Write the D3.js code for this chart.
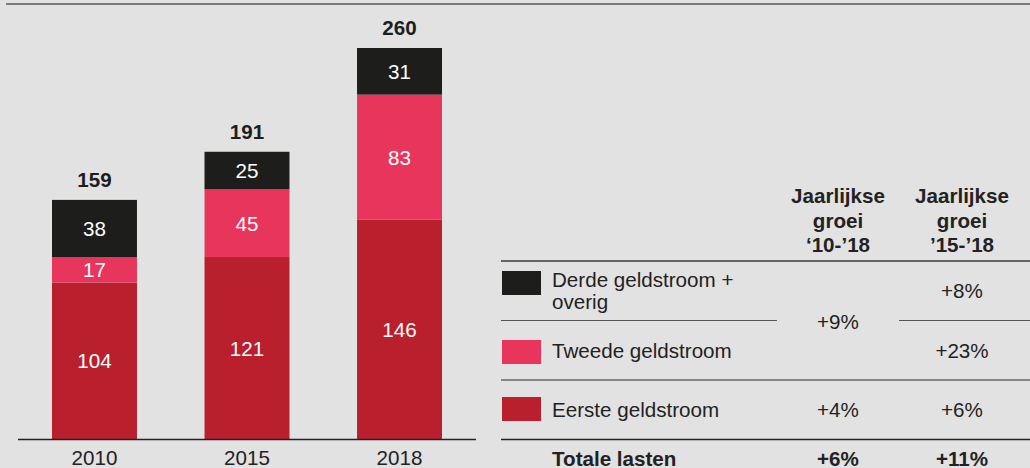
<!DOCTYPE html>
<html><head><meta charset="utf-8">
<script src="https://cdn.jsdelivr.net/npm/d3@7"></script>
<style>
html,body{margin:0;padding:0;background:#e2e2e2;}
svg{display:block;font-family:"Liberation Sans",Arial,sans-serif;}
</style></head>
<body><svg id="c" width="1030" height="468"></svg>
<script>
const years = ["2010","2015","2018"];
const seriesNames = ["Eerste geldstroom","Tweede geldstroom","Derde geldstroom + overig"];
const eerste = [104,121,146];
const tweede = [17,45,83];
const derde = [38,25,31];
const totals = [159,191,260];
const colors = ["#b91f2c","#e8355b","#1d1d1b"];
const growthHeader1 = ["Jaarlijkse","groei","\u201810-\u201918"];
const growthHeader2 = ["Jaarlijkse","groei","\u201915-\u201918"];
const growth1018 = ["+9%","+4%","+6%"];       // derde+tweede combined, eerste, total
const growth1518 = ["+8%","+23%","+6%","+11%"]; // derde, tweede, eerste, total
const totalLabel = "Totale lasten";

const FS = 20.6;
const svg = d3.select("#c");
const baseY = 439;
const x = d3.scaleBand().domain(years).range([18,476]).paddingInner(0.443).paddingOuter(0.223);
const y = d3.scaleLinear().domain([0,260]).range([baseY,48]);

// top rule
svg.append("line").attr("x1",6).attr("x2",1030).attr("y1",4).attr("y2",4)
  .attr("stroke","#7a7a7a").attr("stroke-width",2);

const rows = years.map((yr,i)=>({year:yr, e:eerste[i], t:tweede[i], d:derde[i]}));
const stack = d3.stack().keys(["e","t","d"])(rows);

stack.forEach((layer,li)=>{
  svg.append("g").selectAll("rect").data(layer).join("rect")
    .attr("x",d=>x(d.data.year)).attr("width",x.bandwidth())
    .attr("y",d=>y(d[1])).attr("height",d=>y(d[0])-y(d[1]))
    .attr("fill",colors[li]);
  svg.append("g").selectAll("text").data(layer).join("text")
    .attr("x",d=>x(d.data.year)+x.bandwidth()/2)
    .attr("y",d=>(y(d[0])+y(d[1]))/2+7.5)
    .attr("text-anchor","middle").attr("fill","#fff").attr("font-size",FS)
    .text(d=>d[1]-d[0]);
});

svg.append("g").selectAll("text").data(totals).join("text")
  .attr("x",(d,i)=>x(years[i])+x.bandwidth()/2)
  .attr("y",d=>y(d)-13)
  .attr("text-anchor","middle").attr("font-weight","bold").attr("font-size",FS).attr("fill","#1d1d1b")
  .text(d=>d);

// axis
const ax = svg.append("g").attr("transform",`translate(0,${baseY})`).call(d3.axisBottom(x).tickSize(0).tickPadding(11));
ax.select(".domain").attr("stroke","#222").attr("stroke-width",1.6).attr("d","M18,0.5H476");
ax.selectAll("text").attr("font-size",FS).attr("fill","#222").attr("font-family","Liberation Sans, Arial, sans-serif");

// table
const tx = 501, tEnd = 1030, c1 = 838, c2 = 962;
const tg = svg.append("g").attr("fill","#222").attr("font-size",FS);
[growthHeader1,growthHeader2].forEach((h,j)=>{
  h.forEach((s,k)=>{
    tg.append("text").attr("x",j?c2:c1).attr("y",203+k*24.5).attr("text-anchor","middle")
      .attr("font-weight","bold").text(s);
  });
});
function hline(x1,x2,yy,col,w){svg.append("line").attr("x1",x1).attr("x2",x2).attr("y1",yy).attr("y2",yy).attr("stroke",col).attr("stroke-width",w);}
hline(tx,tEnd,261,"#3a3a3a",1.6);
hline(tx,777,320.5,"#555",1.2);
hline(899,tEnd,320.5,"#555",1.2);
hline(tx,tEnd,380,"#666",1.4);
hline(tx,tEnd,439.5,"#222",1.6);

const swY = [271,340,397];
const legendOrder = [2,1,0];
legendOrder.forEach((si,k)=>{
  svg.append("rect").attr("x",502).attr("y",swY[k]).attr("width",39).attr("height",24).attr("fill",colors[si]);
});
tg.append("text").attr("x",552).attr("y",287).text("Derde geldstroom +");
tg.append("text").attr("x",552).attr("y",309).text("overig");
tg.append("text").attr("x",552).attr("y",358).text(seriesNames[1]);
tg.append("text").attr("x",552).attr("y",417).text(seriesNames[0]);
tg.append("text").attr("x",552).attr("y",466).attr("font-weight","bold").text(totalLabel);

const g1y = [329,417,466];
growth1018.forEach((s,k)=>tg.append("text").attr("x",c1).attr("y",g1y[k]).attr("text-anchor","middle")
  .attr("font-weight",k===2?"bold":null).text(s));
const g2y = [298,358,417,466];
growth1518.forEach((s,k)=>tg.append("text").attr("x",c2).attr("y",g2y[k]).attr("text-anchor","middle")
  .attr("font-weight",k===3?"bold":null).text(s));
</script></body></html>
